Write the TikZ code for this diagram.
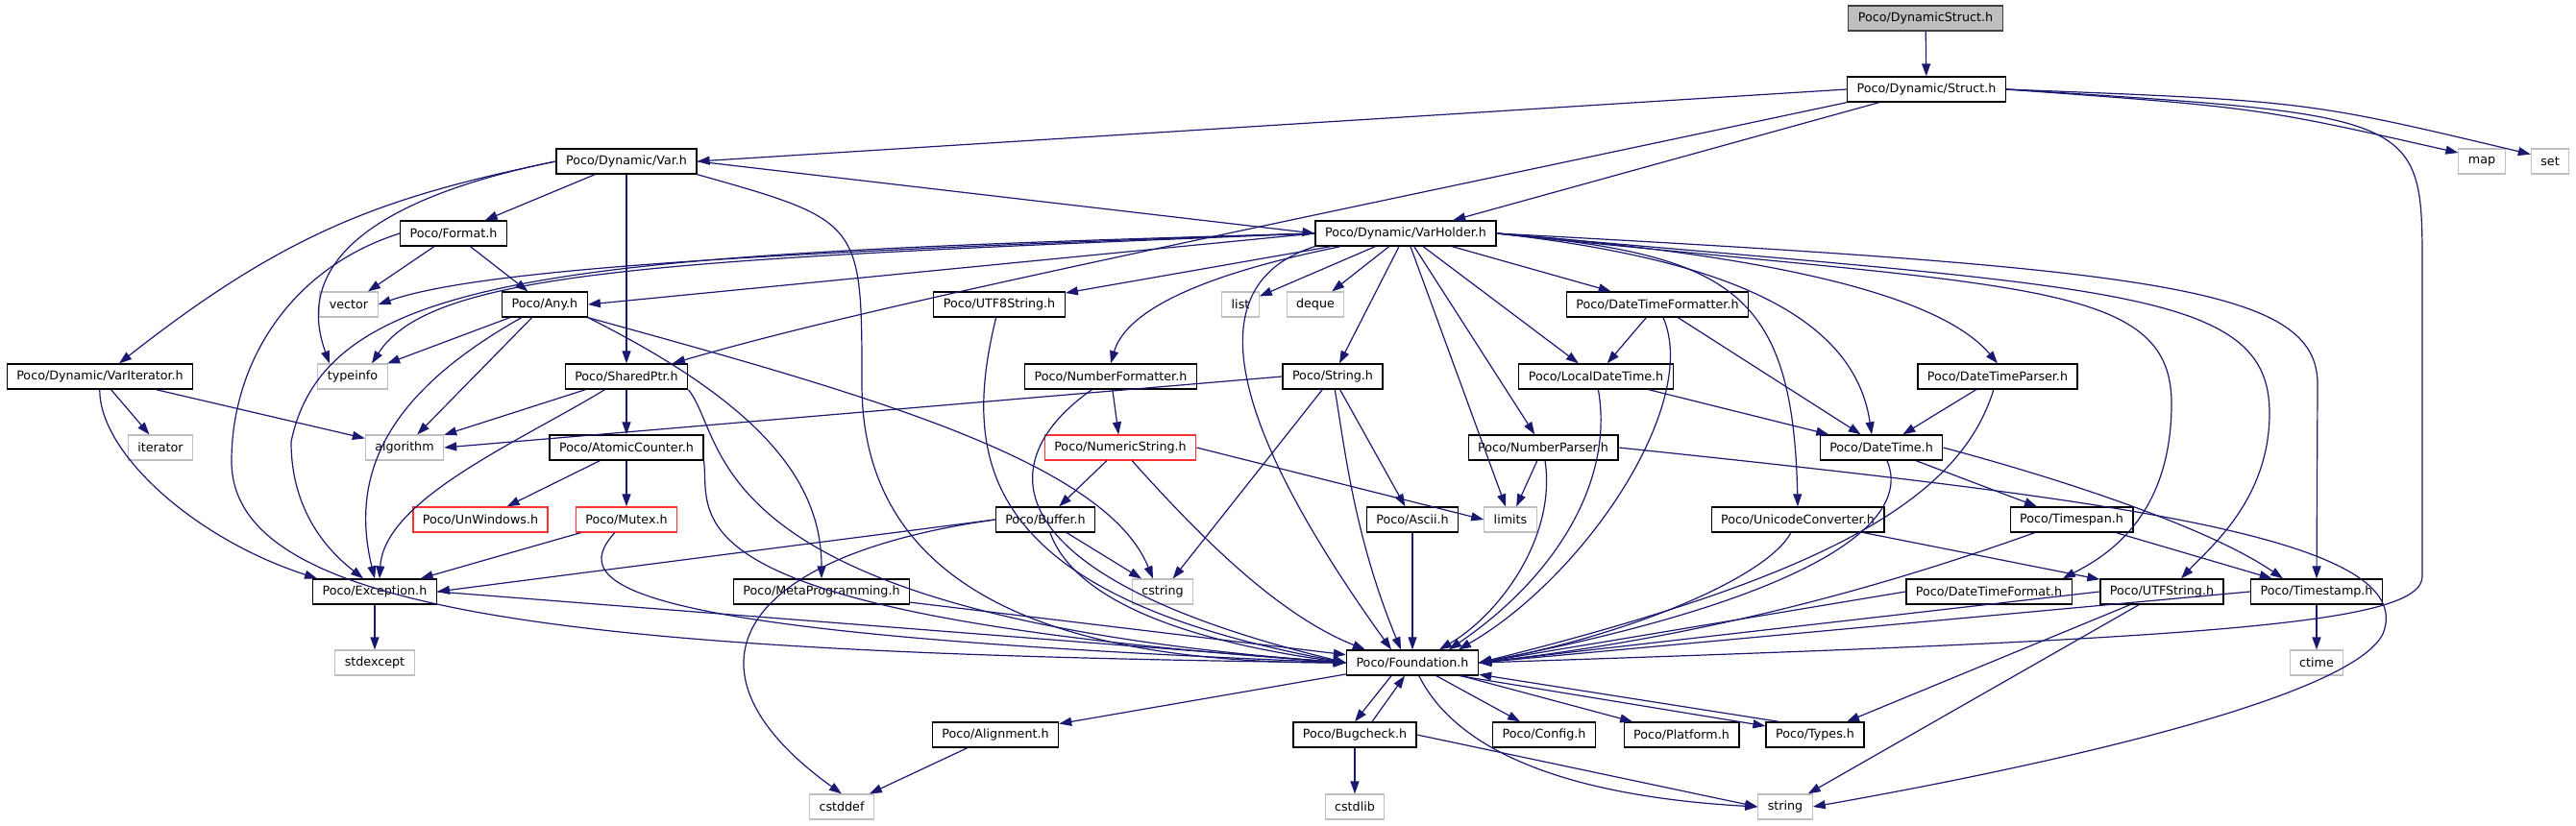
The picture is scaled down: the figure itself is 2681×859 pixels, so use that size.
\documentclass[tikz,border=0pt]{standalone}
\usepackage{fontspec}
\setmainfont{DejaVu Sans}
\usetikzlibrary{arrows.meta}
\definecolor{edgeblue}{HTML}{191970}
\definecolor{lightgrey}{HTML}{BFBFBF}
\definecolor{rootgrey}{HTML}{BFBFBF}
\definecolor{darkgrey}{HTML}{404040}
\definecolor{truncred}{HTML}{FF3030}
\newcommand{\hfont}{\fontsize{12.7}{15}\selectfont}
\tikzset{
  hdr/.style={draw=black, fill=white, line width=1.3pt, inner xsep=10pt, inner ysep=0pt, minimum height=26pt, font=\hfont},
  syshdr/.style={hdr, draw=lightgrey, line width=1.1pt},
  trunc/.style={hdr, draw=truncred},
  roothdr/.style={hdr, fill=rootgrey, draw=darkgrey},
  dep/.style={draw=edgeblue, line width=1.2pt, -{Triangle[length=13pt,width=9pt]}},
}
\begin{document}
\begin{tikzpicture}[x=1pt,y=-1pt]
\useasboundingbox (0,0) rectangle (2681,859);
% rows of headers
\node[roothdr] (root) at (2004,19) {Poco/DynamicStruct.h};
\node[hdr] (st) at (2005,93) {Poco/Dynamic/Struct.h};
\node[syshdr] (mapn) at (2583,168) {map};
\node[syshdr] (setn) at (2654,168) {set};
\node[hdr] (var) at (652,168) {Poco/Dynamic/Var.h};
\node[hdr] (vh) at (1463,243) {Poco/Dynamic/VarHolder.h};
\node[hdr] (fmt) at (472,243) {Poco/Format.h};
\node[syshdr] (vec) at (363,317) {vector};
\node[hdr] (any) at (567,317) {Poco/Any.h};
\node[hdr] (utf8) at (1040,317) {Poco/UTF8String.h};
\node[syshdr] (lst) at (1291,317) {list};
\node[syshdr] (deq) at (1369,317) {deque};
\node[hdr] (dtfr) at (1725,317) {Poco/DateTimeFormatter.h};
\node[hdr] (vit) at (104,392) {Poco/Dynamic/VarIterator.h};
\node[syshdr] (tinfo) at (367,392) {typeinfo};
\node[hdr] (sptr) at (652,392) {Poco/SharedPtr.h};
\node[hdr] (nfmt) at (1156,392) {Poco/NumberFormatter.h};
\node[hdr] (str) at (1387,392) {Poco/String.h};
\node[hdr] (ldt) at (1661,392) {Poco/LocalDateTime.h};
\node[hdr] (dtp) at (2079,392) {Poco/DateTimeParser.h};
\node[syshdr] (iter) at (167,466) {iterator};
\node[syshdr] (algo) at (421,466) {algorithm};
\node[hdr] (atom) at (652,466) {Poco/AtomicCounter.h};
\node[trunc] (nstr) at (1166,466) {Poco/NumericString.h};
\node[hdr] (nprs) at (1606,466) {Poco/NumberParser.h};
\node[hdr] (dt) at (1958,466) {Poco/DateTime.h};
\node[trunc] (unwin) at (500,541) {Poco/UnWindows.h};
\node[trunc] (mutex) at (652,541) {Poco/Mutex.h};
\node[hdr] (buf) at (1088,541) {Poco/Buffer.h};
\node[hdr] (ascii) at (1470,541) {Poco/Ascii.h};
\node[syshdr] (lim) at (1572,541) {limits};
\node[hdr] (ucv) at (1871,541) {Poco/UnicodeConverter.h};
\node[hdr] (tspan) at (2156,541) {Poco/Timespan.h};
\node[hdr] (exc) at (390,616) {Poco/Exception.h};
\node[hdr] (meta) at (855,616) {Poco/MetaProgramming.h};
\node[syshdr] (cstr) at (1210,616) {cstring};
\node[hdr] (dtf) at (2070,616) {Poco/DateTimeFormat.h};
\node[hdr] (utfs) at (2250,616) {Poco/UTFString.h};
\node[hdr] (tstamp) at (2411,616) {Poco/Timestamp.h};
\node[syshdr] (stdexc) at (390,690) {stdexcept};
\node[hdr] (fo) at (1470,690) {Poco/Foundation.h};
\node[syshdr] (ctime) at (2411,690) {ctime};
\node[hdr] (align) at (1036,765) {Poco/Alignment.h};
\node[hdr] (bug) at (1410,765) {Poco/Bugcheck.h};
\node[hdr] (cfg) at (1607,765) {Poco/Config.h};
\node[hdr] (plat) at (1750,765) {Poco/Platform.h};
\node[hdr] (types) at (1889,765) {Poco/Types.h};
\node[syshdr] (cstddef) at (876,840) {cstddef};
\node[syshdr] (cstdlib) at (1410,840) {cstdlib};
\node[syshdr] (strg) at (1858,840) {string};
% Struct.h
\draw[dep] (root) -- (st);
\draw[dep] (st.west) -- (var.east);
\draw[dep] (st) -- (vh);
\draw[dep] (st.south west) .. controls (1200,260) and (900,320) .. ([xshift=48pt]sptr.north);
\draw[dep] (st.east) .. controls (2350,112) .. (mapn.160);
\draw[dep] (st.east) .. controls (2400,105) .. (setn.160);
\draw[dep] (st.east) .. controls (2521,120) .. (2521,280) -- (2521,600) .. controls (2521,650) and (2300,665) .. (fo.east);
% Var.h
\draw[dep] (var.east) -- (vh.west);
\draw[dep] (var) -- (fmt);
\draw[dep] (var) -- (sptr);
\draw[dep] (var.west) .. controls (400,205) and (300,240) .. ([xshift=20pt]vit.north);
\draw[dep] (var.west) .. controls (420,200) and (300,260) .. ([xshift=-24pt]tinfo.north);
\draw[dep] (var.south east) .. controls (897,230) .. (897,400) .. controls (897,640) and (1150,690) .. (fo.west);
% Format.h
\draw[dep] (fmt) -- (vec);
\draw[dep] (fmt) -- (any);
\draw[dep] (fmt.west) .. controls (300,280) and (241,380) .. (241,480) .. controls (241,640) and (600,680) .. (fo.west);
% VarHolder.h
\draw[dep] (vh.west) .. controls (800,262) and (500,280) .. (vec.east);
\draw[dep] (vh.west) .. controls (700,270) and (450,280) .. ([xshift=20pt]tinfo.north);
\draw[dep] (vh.west) -- (any.east);
\draw[dep] (vh.west) .. controls (600,265) and (340,280) .. (303,460) .. controls (303,540) and (350,580) .. ([xshift=-12pt]exc.north);
\draw[dep] (vh) -- (utf8);
\draw[dep] (vh) .. controls (1230,290) and (1170,330) .. (nfmt.north);
\draw[dep] (vh) -- (lst);
\draw[dep] (vh) -- (deq);
\draw[dep] (vh) -- (str);
\draw[dep] (vh) -- (lim);
\draw[dep] (vh) -- (nprs);
\draw[dep] (vh) -- (ldt);
\draw[dep] (vh) -- (dtfr);
\draw[dep] (vh.south west) .. controls (1230,300) and (1300,470) .. ([xshift=-22pt]fo.north);
\draw[dep] (vh.east) .. controls (1800,270) and (1930,330) .. ([xshift=-10pt]dt.north);
\draw[dep] (vh.east) .. controls (1900,270) and (2030,320) .. (dtp.north);
\draw[dep] (vh.east) .. controls (1800,265) and (1866,300) .. (ucv.north);
\draw[dep] (vh.east) .. controls (2100,300) and (2260,290) .. (2260,420) .. controls (2260,540) and (2190,580) .. ([xshift=-10pt]dtf.north east);
\draw[dep] (vh.east) .. controls (2200,300) and (2362,300) .. (2362,430) .. controls (2362,520) and (2300,570) .. ([xshift=20pt]utfs.north);
\draw[dep] (vh.east) .. controls (2250,280) and (2412,300) .. (2412,400) -- (tstamp.north);
% Any.h
\draw[dep] (any) -- (tinfo);
\draw[dep] (any) -- (algo);
\draw[dep] (any) .. controls (420,400) and (360,480) .. (exc.north);
\draw[dep] (any.south east) .. controls (790,420) and (855,500) .. (meta.north);
\draw[dep] (any.south east) .. controls (900,410) and (1150,480) .. ([xshift=-10pt]cstr.north);
% VarIterator.h, SharedPtr.h
\draw[dep] (vit) -- (iter);
\draw[dep] (vit) -- (algo);
\draw[dep] (vit) .. controls (103,470) and (200,560) .. ([xshift=5pt]exc.north west);
\draw[dep] (sptr) -- (algo);
\draw[dep] (sptr) -- (atom);
\draw[dep] (sptr) .. controls (540,460) and (400,520) .. ([xshift=5pt]exc.north);
\draw[dep] (sptr.south east) .. controls (760,460) and (720,640) .. (fo.west);
% AtomicCounter.h, Mutex.h, Exception.h
\draw[dep] (atom) -- (unwin);
\draw[dep] (atom) -- (mutex);
\draw[dep] (atom.south east) .. controls (740,540) and (680,640) .. (fo.west);
\draw[dep] (mutex) -- (exc);
\draw[dep] (mutex) .. controls (590,610) and (640,660) .. (fo.west);
\draw[dep] (exc) -- (stdexc);
\draw[dep] (exc.east) -- (fo.west);
\draw[dep] (meta) -- (fo);
% middle row
\draw[dep] (utf8) .. controls (1000,480) and (1020,620) .. (fo.west);
\draw[dep] (nfmt) -- (nstr);
\draw[dep] (nfmt) .. controls (1030,480) and (1030,600) .. (fo.west);
\draw[dep] (nstr) -- (buf);
\draw[dep] (nstr.east) -- (lim.west);
\draw[dep] (nstr) .. controls (1250,560) and (1330,640) .. ([xshift=20pt]fo.north west);
\draw[dep] (buf) -- (cstr);
\draw[dep] (buf.west) -- (exc.east);
\draw[dep] (buf) .. controls (1120,630) and (1250,670) .. (fo.west);
\draw[dep] (buf.west) .. controls (760,580) and (700,700) .. (cstddef.north);
\draw[dep] (str.west) -- (algo.east);
\draw[dep] (str) -- (cstr);
\draw[dep] (str) -- (ascii);
\draw[dep] (str) .. controls (1400,470) and (1410,560) .. ([xshift=-12pt]fo.north);
\draw[dep] (ascii) -- (fo);
\draw[dep] (nprs) -- (lim);
\draw[dep] (nprs) .. controls (1620,560) and (1560,640) .. ([xshift=28pt]fo.north);
\draw[dep] (nprs.east) .. controls (2200,520) and (2520,560) .. (2480,660) .. controls (2440,740) and (2000,820) .. (strg.east);
% date and time
\draw[dep] (ldt) -- (dt);
\draw[dep] (ldt) .. controls (1680,500) and (1620,600) .. ([xshift=38pt]fo.north);
\draw[dep] (dtfr) -- (ldt);
\draw[dep] (dtfr) -- (dt);
\draw[dep] (dtfr) .. controls (1770,420) and (1650,600) .. ([xshift=48pt]fo.north);
\draw[dep] (dtp) -- (dt);
\draw[dep] (dtp) .. controls (2040,520) and (1900,600) .. (fo.east);
\draw[dep] (dt) -- (tspan);
\draw[dep] (dt.east) .. controls (2150,500) and (2300,550) .. ([xshift=-35pt]tstamp.north);
\draw[dep] (dt) .. controls (1990,540) and (1900,620) .. (fo.east);
\draw[dep] (ucv) -- (utfs);
\draw[dep] (ucv) .. controls (1840,600) and (1700,660) .. (fo.east);
\draw[dep] (tspan) -- (tstamp);
\draw[dep] (tspan) .. controls (1990,600) and (1800,660) .. (fo.east);
\draw[dep] (dtf.west) -- (fo.east);
\draw[dep] (utfs.west) -- (fo.east);
\draw[dep] (utfs) -- (types);
\draw[dep] (utfs) -- (strg);
\draw[dep] (tstamp) -- (ctime);
\draw[dep] (tstamp.west) -- (fo.east);
% Foundation.h
\draw[dep] (fo) -- (align);
\draw[dep] ([xshift=-22pt]fo.south) -- (bug.north);
\draw[dep] ([xshift=18pt]bug.north) -- ([xshift=-8pt]fo.south);
\draw[dep] (fo) -- (cfg);
\draw[dep] (fo) -- (plat);
\draw[dep] ([xshift=-20pt]fo.south east) -- (types.170);
\draw[dep] (types.160) -- (fo.-10);
\draw[dep] (fo) .. controls (1520,790) and (1650,830) .. (strg.west);
\draw[dep] (bug.east) -- (strg.west);
\draw[dep] (bug) -- (cstdlib);
\draw[dep] (align) -- (cstddef);
\end{tikzpicture}
\end{document}
